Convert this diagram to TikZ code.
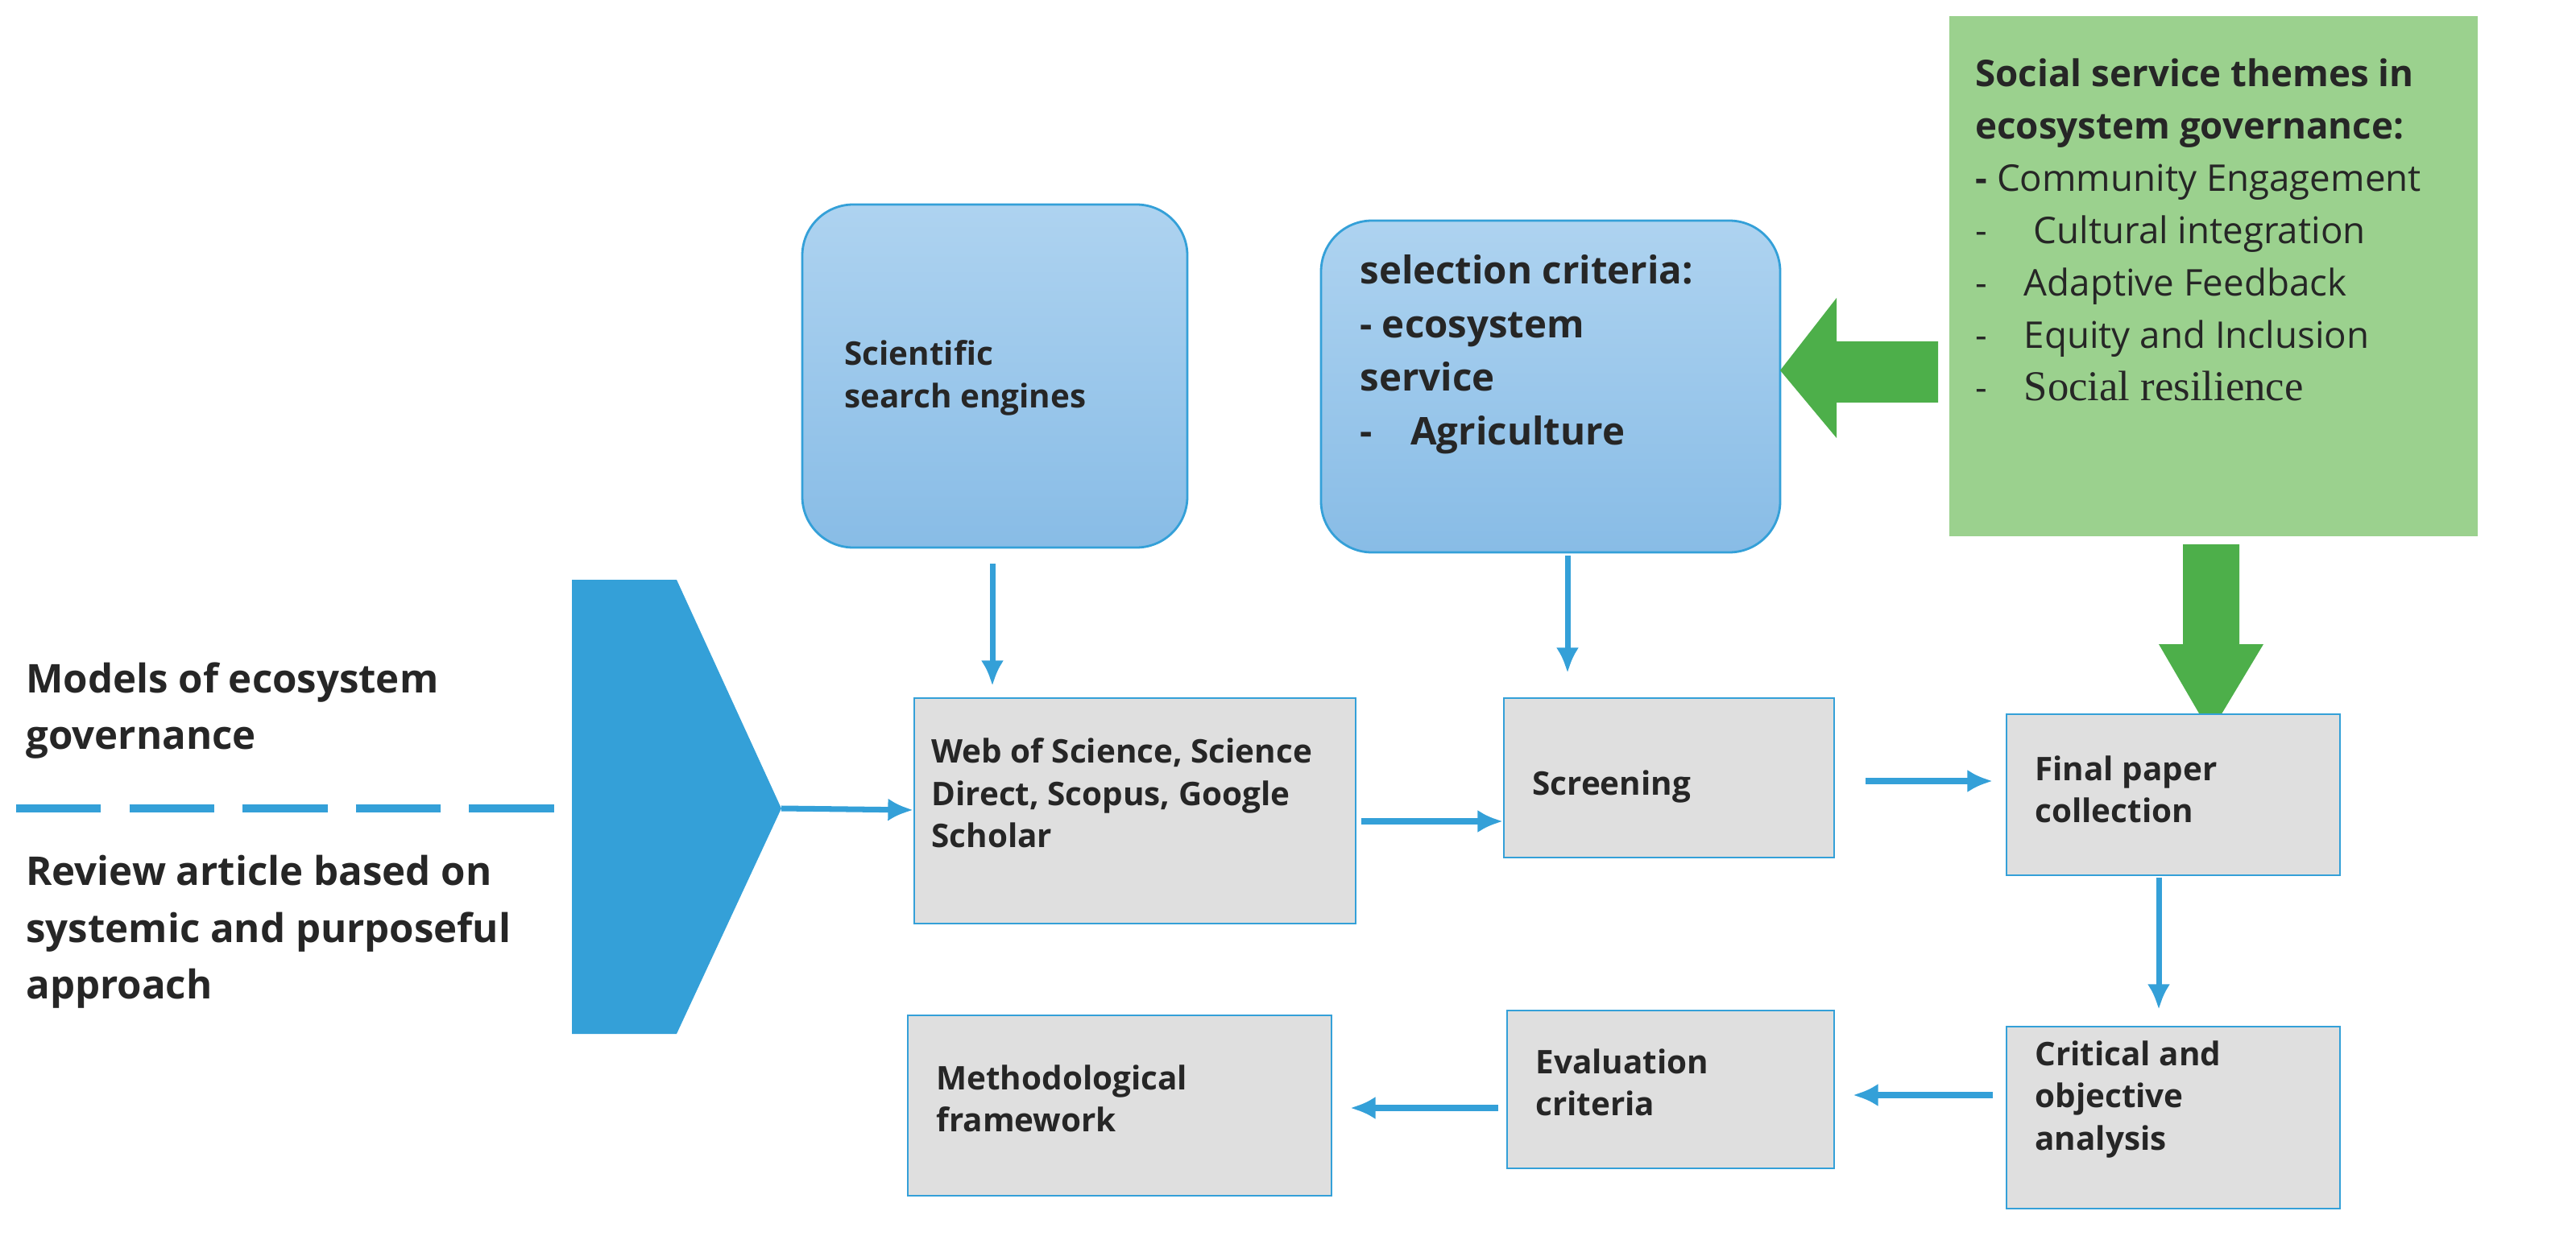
\documentclass[tikz,border=0pt]{standalone}
\usepackage{fontspec}
\setmainfont{Open Sans}
\newfontfamily\serifx{Liberation Serif}
\usetikzlibrary{arrows.meta}
\definecolor{bl}{HTML}{34A0D8}
\definecolor{btop}{HTML}{AED3F0}
\definecolor{bbot}{HTML}{88BCE6}
\definecolor{gfill}{HTML}{9BD18E}
\definecolor{garr}{HTML}{4DAF4A}
\begin{document}
\begin{tikzpicture}[x=0.02cm,y=-0.02cm,
 gbox/.style={draw=bl,fill=gray!25,line width=0.6pt,anchor=north west,inner sep=0pt},
 lbl/.style={anchor=north west,align=left,font=\bfseries\fontsize{11.5}{15}\selectfont,text=black!85},
 ar/.style={draw=bl,line width=2pt,-{Latex[length=9pt,width=8pt]}},
 bbox/.style={rounded corners=18pt,draw=bl,line width=0.8pt,top color=btop,bottom color=bbot}]
\useasboundingbox (0,0) rectangle (1599,770);
% blue rounded boxes
\path[bbox] (498,127) rectangle (737,340);
\node[lbl] (sse) at (518,205) {Scientific\\search engines};
\path[bbox] (820,137) rectangle (1105,343);
\node[lbl,font=\bfseries\fontsize{13.5}{19}\selectfont] (sc) at (838,152) {selection criteria:\\- ecosystem\\service\\-\quad Agriculture};
% green box
\fill[gfill] (1210,10) rectangle (1538,333);
\node[anchor=north west,align=left,font=\fontsize{13}{18.5}\selectfont,text=black!85] (gt) at (1220,30)
 {\textbf{Social service themes in}\\\textbf{ecosystem governance:}\\\textbf{-} Community Engagement\\-\quad\ Cultural integration\\-\quad Adaptive Feedback\\-\quad Equity and Inclusion\\-\quad {\serifx\fontsize{15}{18.5}\selectfont Social resilience}};
% green arrows
\fill[garr] (1203,212) -- (1140,212) -- (1140,185) -- (1105,230) -- (1140,272) -- (1140,250) -- (1203,250) -- cycle;
\fill[garr] (1355,338) -- (1390,338) -- (1390,400) -- (1405,400) -- (1372,455) -- (1340,400) -- (1355,400) -- cycle;
% pentagon
\fill[bl] (355,360) -- (420,360) -- (485,502) -- (420,642) -- (355,642) -- cycle;
\coordinate (pt) at (485,502);
\draw[bl,line width=3pt,dash pattern=on 30pt off 10pt] (10,502) -- (355,502);
\node[anchor=north west,align=left,font=\bfseries\fontsize{14}{20}\selectfont,text=black!85] (mg) at (10,405) {Models of ecosystem\\governance};
\node[anchor=north west,align=left,font=\bfseries\fontsize{14}{20}\selectfont,text=black!85] (ra) at (10,525) {Review article based on\\systemic and purposeful\\approach};
% gray boxes
\node[gbox,minimum width=274*0.02cm,minimum height=140*0.02cm] (wos) at (567,433) {};
\node[lbl] at (572,452) {Web of Science, Science\\Direct, Scopus, Google\\Scholar};
\node[gbox,minimum width=205*0.02cm,minimum height=99*0.02cm] (scr) at (933,433) {};
\node[lbl] at (945,472) {Screening};
\node[gbox,minimum width=207*0.02cm,minimum height=100*0.02cm] (fp) at (1245,443) {};
\node[lbl] at (1257,463) {Final paper\\collection};
\node[gbox,minimum width=207*0.02cm,minimum height=113*0.02cm] (ca) at (1245,637) {};
\node[lbl] at (1257,640) {Critical and\\objective\\analysis};
\node[gbox,minimum width=203*0.02cm,minimum height=98*0.02cm] (ev) at (935,627) {};
\node[lbl] at (947,645) {Evaluation\\criteria};
\node[gbox,minimum width=263*0.02cm,minimum height=112*0.02cm] (mf) at (563,630) {};
\node[lbl] at (575,655) {Methodological\\framework};
% arrows
\draw[ar] (616,350) -- (616,426);
\draw[ar] (973,345) -- (973,418);
\draw[ar] (pt) -- (wos.west |- 0,503);
\draw[ar] (845,510) -- (scr.west |- 0,510);
\draw[ar] (1158,485) -- (1237,485);
\draw[ar] (1340,545) -- (1340,627);
\draw[ar] (1237,680) -- (1150,680);
\draw[ar] (930,688) -- (838,688);
\end{tikzpicture}
\end{document}
